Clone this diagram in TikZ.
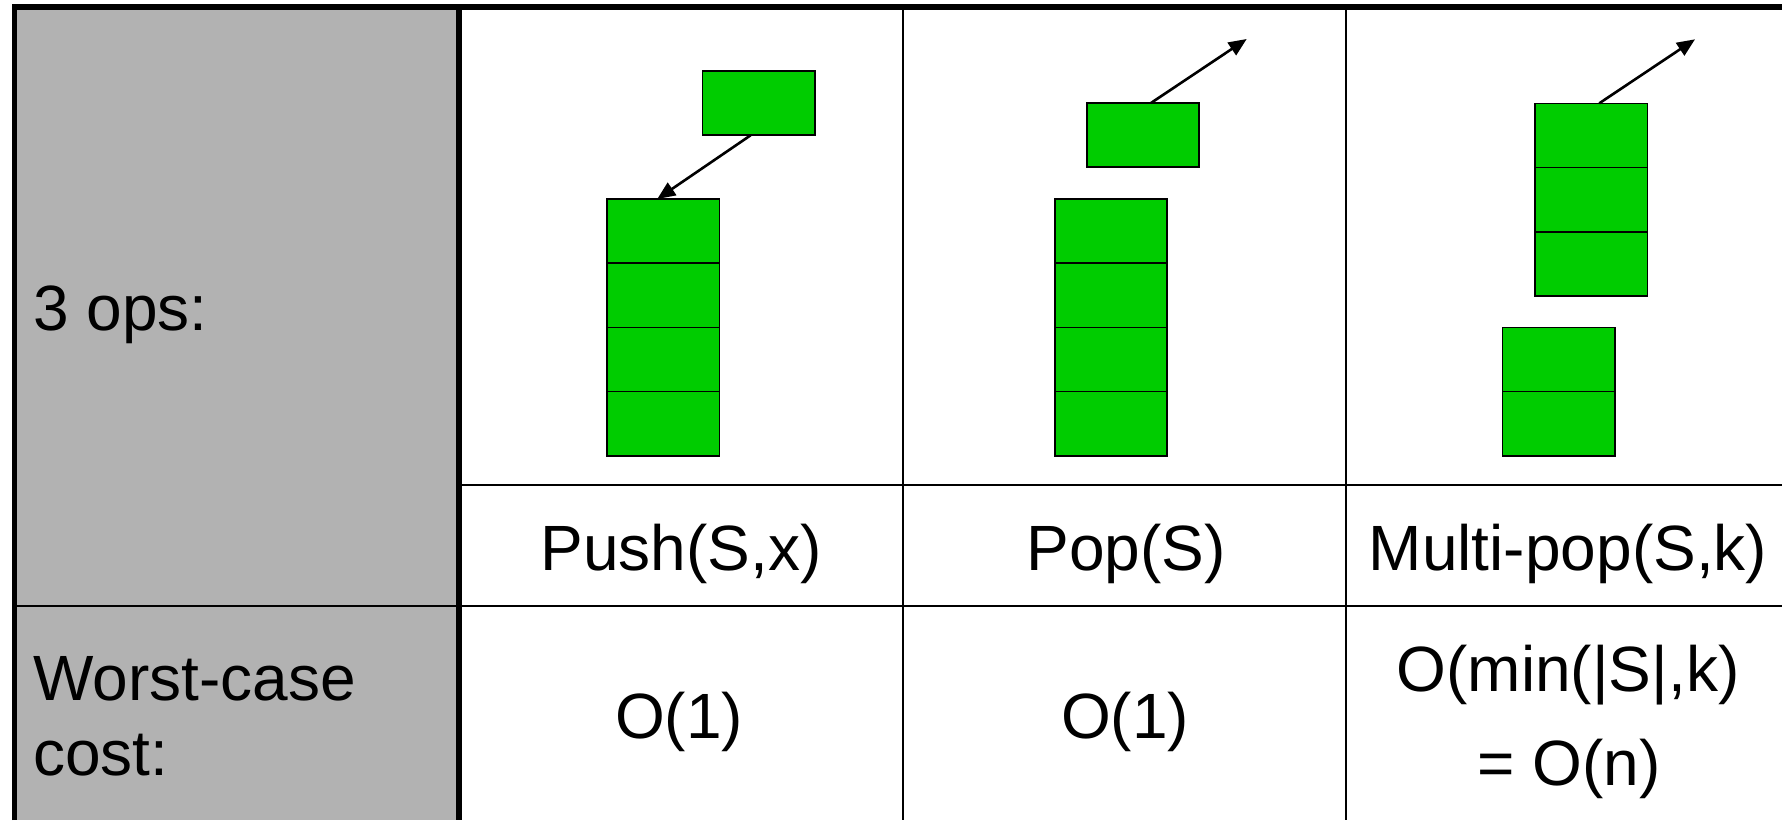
\documentclass[tikz,border=0pt]{standalone}
\usepackage{fontspec}
\setmainfont{Liberation Sans}
\usetikzlibrary{arrows.meta}
\definecolor{headgray}{HTML}{B2B2B2}
\definecolor{stackgreen}{HTML}{00CC00}
\begin{document}
\begin{tikzpicture}[x=1pt,y=-1pt,
  thinrule/.style={line width=2pt},
  thickrule/.style={line width=5.5pt},
  cell/.style={draw=black, line width=1.6pt, fill=stackgreen, rectangle,
    minimum width=112.5pt, minimum height=64.2pt, inner sep=0pt, outer sep=0pt,
    anchor=north west},
  label/.style={font=\fontsize{64}{74}\selectfont, inner sep=0pt, anchor=base},
  leftlabel/.style={label, anchor=base west},
  moveto/.style={line width=2.6pt, -{Triangle[length=18pt,width=15pt]}}
]
\useasboundingbox (0,0) rectangle (1782,820);

% grey heading column
\fill[headgray] (14.5,7) rectangle (459,820);

% table rules
\draw[thinrule] (459,485) -- (1782,485);
\draw[thinrule] (14.5,605.5) -- (1782,605.5);
\draw[thinrule] (902.5,7) -- (902.5,820);
\draw[thinrule] (1346,7) -- (1346,820);
\draw[thickrule] (14.5,820) -- (14.5,7) -- (1782,7);
\draw[thickrule] (459,7) -- (459,820);

% Push: element on top, stack of four below
\node[cell] (pt) at (702.5,71) {};
\node[cell] (ps1) at (607,199) {};
\node[cell] (ps2) at (607,263.2) {};
\node[cell] (ps3) at (607,327.4) {};
\node[cell] (ps4) at (607,391.6) {};
\draw[moveto] ([xshift=-8pt]pt.south) -- ([xshift=-6pt]ps1.north);

% Pop: top element leaving, stack of four
\node[cell] (ot) at (1086.7,103) {};
\node[cell] (os1) at (1054.7,199) {};
\node[cell] (os2) at (1054.7,263.2) {};
\node[cell] (os3) at (1054.7,327.4) {};
\node[cell] (os4) at (1054.7,391.6) {};
\coordinate (oout) at (1246.7,39);
\draw[moveto] ([xshift=8pt]ot.north) -- (oout);

% Multi-pop: three elements leaving, two remain
\node[cell] (mu1) at (1535,103.3) {};
\node[cell] (mu2) at (1535,167.5) {};
\node[cell] (mu3) at (1535,231.7) {};
\node[cell] (ml1) at (1502.5,327.3) {};
\node[cell] (ml2) at (1502.5,391.5) {};
\coordinate (mout) at (1695,39.3);
\draw[moveto] ([xshift=8pt]mu1.north) -- (mout);

% labels
\node[leftlabel] (ops) at (33,330) {3 ops:};
\node[label] (push) at (681,570) {Push(S,x)};
\node[label] (pop) at (1126,570) {Pop(S)};
\node[label] (mpop) at (1568,570) {Multi-pop(S,k)};
\node[leftlabel] (wc1) at (33,700) {Worst-case};
\node[leftlabel] (wc2) at (33,775) {cost:};
\node[label] (c1) at (679,738) {O(1)};
\node[label] (c2) at (1125,738) {O(1)};
\node[label] (c3a) at (1568,691.7) {O(min(|S|,k)};
\node[label] (c3b) at (1569,785) {= O(n)};
\end{tikzpicture}
\end{document}
